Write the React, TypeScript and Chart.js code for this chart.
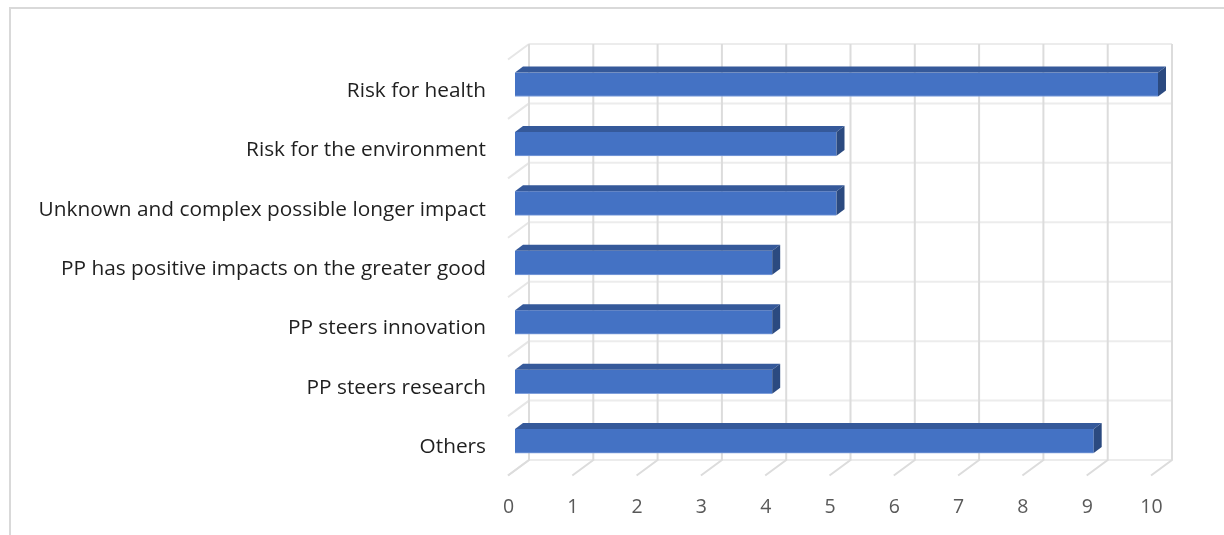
import React, { useEffect, useRef } from "react";
import { Chart, registerables } from "chart.js";

Chart.register(...registerables);

const categories = [
  "Risk for health",
  "Risk for the environment",
  "Unknown and complex possible longer impact",
  "PP has positive impacts on the greater good",
  "PP steers innovation",
  "PP steers research",
  "Others",
];
const values = [10, 5, 5, 4, 4, 4, 9];

const FONT = '"Open Sans", sans-serif';
const AREA = { left: 515, right: 1158, top: 54.8, bottom: 470.8 };

const wall3d = {
  id: "wall3d",
  beforeDatasetsDraw(chart: any) {
    const { ctx, scales } = chart;
    const { x, y } = scales;
    const top = y.top - 10.8;
    const bottom = y.bottom - 10.8;
    const band = (y.bottom - y.top) / categories.length;
    ctx.save();
    ctx.lineWidth = 2;
    ctx.strokeStyle = "#ececec";
    for (let i = 0; i <= categories.length; i++) {
      const yy = top + i * band;
      ctx.beginPath();
      ctx.moveTo(x.left + 14, yy);
      ctx.lineTo(x.right + 14, yy);
      ctx.stroke();
    }
    ctx.strokeStyle = "#e6e6e6";
    for (let i = 0; i <= categories.length; i++) {
      const yy = top + i * band;
      ctx.beginPath();
      ctx.moveTo(x.left + 14, yy);
      ctx.lineTo(x.left - 7, yy + 15.5);
      ctx.stroke();
    }
    ctx.strokeStyle = "#dcdcdc";
    for (let v = 0; v <= 10; v++) {
      const xx = x.getPixelForValue(v) + 14;
      ctx.beginPath();
      ctx.moveTo(xx, top);
      ctx.lineTo(xx, bottom);
      ctx.lineTo(xx - 21, bottom + 15.5);
      ctx.stroke();
    }
    ctx.restore();
  },
};

const bars3d = {
  id: "bars3d",
  afterDatasetsDraw(chart: any) {
    const { ctx } = chart;
    const dx = 8;
    const dy = 6;
    ctx.save();
    chart.getDatasetMeta(0).data.forEach((bar: any) => {
      const l = bar.base;
      const r = bar.x;
      const t = bar.y - bar.height / 2;
      const b = bar.y + bar.height / 2;
      ctx.fillStyle = "#35599a";
      ctx.beginPath();
      ctx.moveTo(l, t);
      ctx.lineTo(l + dx, t - dy);
      ctx.lineTo(r + dx, t - dy);
      ctx.lineTo(r, t);
      ctx.closePath();
      ctx.fill();
      ctx.fillStyle = "#2b4a80";
      ctx.beginPath();
      ctx.moveTo(r, t);
      ctx.lineTo(r + dx, t - dy);
      ctx.lineTo(r + dx, b - dy);
      ctx.lineTo(r, b);
      ctx.closePath();
      ctx.fill();
    });
    ctx.restore();
  },
};

const frame = {
  id: "frame",
  beforeDraw(chart: any) {
    const { ctx } = chart;
    ctx.save();
    ctx.strokeStyle = "#d9d9d9";
    ctx.lineWidth = 2;
    ctx.beginPath();
    ctx.moveTo(10, 535);
    ctx.lineTo(10, 8);
    ctx.lineTo(1224, 8);
    ctx.stroke();
    ctx.restore();
  },
};

export default function App() {
  const ref = useRef<HTMLCanvasElement>(null);
  useEffect(() => {
    document.body.style.margin = "0";
    document.body.style.background = "#ffffff";
    const chart = new Chart(ref.current!, {
      type: "bar",
      data: {
        labels: categories,
        datasets: [
          {
            data: values,
            backgroundColor: "#4472c4",
            borderColor: "#7f9fdb",
            borderWidth: { bottom: 1, left: 1 },
            barThickness: 24,
          },
        ],
      },
      options: {
        indexAxis: "y",
        responsive: false,
        animation: false,
        devicePixelRatio: 1,
        layout: {
          padding: { left: 0, top: AREA.top, right: 1224 - AREA.right, bottom: 0 },
        },
        plugins: { legend: { display: false }, tooltip: { enabled: false } },
        scales: {
          x: {
            type: "linear",
            min: 0,
            max: 10,
            grid: { display: false },
            border: { display: false },
            afterFit(scale: any) {
              scale.height = 535 - AREA.bottom;
            },
            ticks: {
              stepSize: 1,
              autoSkip: false,
              maxRotation: 0,
              labelOffset: -6.5,
              padding: 17,
              color: "#595959",
              font: { family: FONT, size: 19.5 },
            },
          },
          y: {
            type: "category",
            grid: { display: false },
            border: { display: false },
            afterFit(scale: any) {
              scale.width = AREA.left;
            },
            ticks: {
              autoSkip: false,
              labelOffset: 6.2,
              padding: 21,
              color: "#1f1f1f",
              font: { family: FONT, size: 20.8 },
            },
          },
        },
      },
      plugins: [frame, wall3d, bars3d],
    } as any);
    return () => chart.destroy();
  }, []);
  return (
    <div style={{ width: 1224, height: 535 }}>
      <canvas ref={ref} width={1224} height={535} style={{ display: "block" }} />
    </div>
  );
}
